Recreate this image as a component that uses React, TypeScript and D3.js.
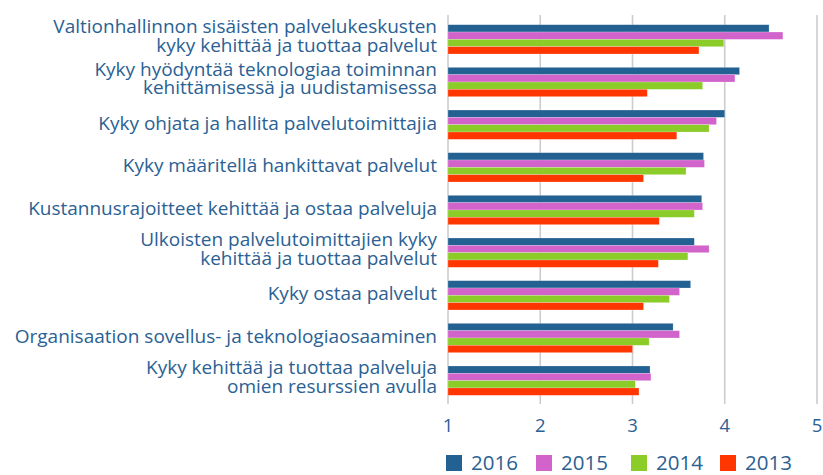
import React from "react";
import * as d3 from "d3";

const categories: string[][] = [
  ["Valtionhallinnon sisäisten palvelukeskusten", "kyky kehittää ja tuottaa palvelut"],
  ["Kyky hyödyntää teknologiaa toiminnan", "kehittämisessä ja uudistamisessa"],
  ["Kyky ohjata ja hallita palvelutoimittajia"],
  ["Kyky määritellä hankittavat palvelut"],
  ["Kustannusrajoitteet kehittää ja ostaa palveluja"],
  ["Ulkoisten palvelutoimittajien kyky", "kehittää ja tuottaa palvelut"],
  ["Kyky ostaa palvelut"],
  ["Organisaation sovellus- ja teknologiaosaaminen"],
  ["Kyky kehittää ja tuottaa palveluja", "omien resurssien avulla"],
];

const seriesNames = ["2016", "2015", "2014", "2013"];
const v2016 = [4.48, 4.16, 4.0, 3.77, 3.75, 3.67, 3.63, 3.44, 3.19];
const v2015 = [4.63, 4.11, 3.91, 3.78, 3.76, 3.83, 3.51, 3.51, 3.2];
const v2014 = [3.99, 3.76, 3.83, 3.58, 3.67, 3.6, 3.4, 3.18, 3.03];
const v2013 = [3.72, 3.16, 3.48, 3.12, 3.29, 3.28, 3.12, 3.0, 3.07];
const seriesValues = [v2016, v2015, v2014, v2013];
const colors = ["#236192", "#d163cb", "#8bcc28", "#ff3600"];
const ticks = [1, 2, 3, 4, 5];

const W = 823;
const H = 475;
const textColor = "#2b6193";
const font = "'Open Sans', sans-serif";

export default function App() {
  const x = d3.scaleLinear().domain([1, 5]).range([448, 817]);
  const idx = categories.map((_, i) => String(i));
  const y = d3.scaleBand<string>().domain(idx).range([18, 402]).paddingInner(0.313).paddingOuter(0.157);
  const inner = d3.scaleBand<string>().domain(seriesNames).range([0, y.bandwidth()]);

  return (
    <svg width={W} height={H} style={{ position: "absolute", left: 0, top: 0 }}>
      <rect width={W} height={H} fill="#fff" />
      {ticks.map((t) => (
        <g key={t}>
          <line x1={x(t)} x2={x(t)} y1={15} y2={404} stroke="#cccccc" strokeWidth={1.6} />
          <text x={x(t)} y={432} textAnchor="middle" fontFamily={font} fontSize={18.5} fill={textColor}>
            {t}
          </text>
        </g>
      ))}
      {categories.map((lines, i) => {
        const y0 = y(String(i))!;
        const c = y0 + y.bandwidth() / 2;
        const firstY = lines.length === 1 ? c + 5 : c + 3 - 9.4;
        return (
          <g key={i}>
            {seriesNames.map((s, k) => (
              <rect
                key={s}
                x={x(1)}
                y={y0 + inner(s)!}
                width={x(seriesValues[k][i]) - x(1)}
                height={inner.bandwidth()}
                fill={colors[k]}
                stroke="#ffffff"
                strokeOpacity={0.35}
                strokeWidth={0.6}
              />
            ))}
            <text x={437} y={firstY} textAnchor="end" fontFamily={font} fontSize={19} fill={textColor}>
              {lines.map((ln, j) => (
                <tspan key={j} x={437} dy={j === 0 ? 0 : 18.8}>
                  {ln}
                </tspan>
              ))}
            </text>
          </g>
        );
      })}
      {seriesNames.map((s, k) => {
        const lx = [446, 536, 631, 720][k];
        return (
          <g key={s}>
            <rect x={lx} y={455} width={16} height={16} fill={colors[k]} />
            <text x={lx + 25} y={470} fontFamily={font} fontSize={20.5} fill={textColor}>
              {s}
            </text>
          </g>
        );
      })}
    </svg>
  );
}
